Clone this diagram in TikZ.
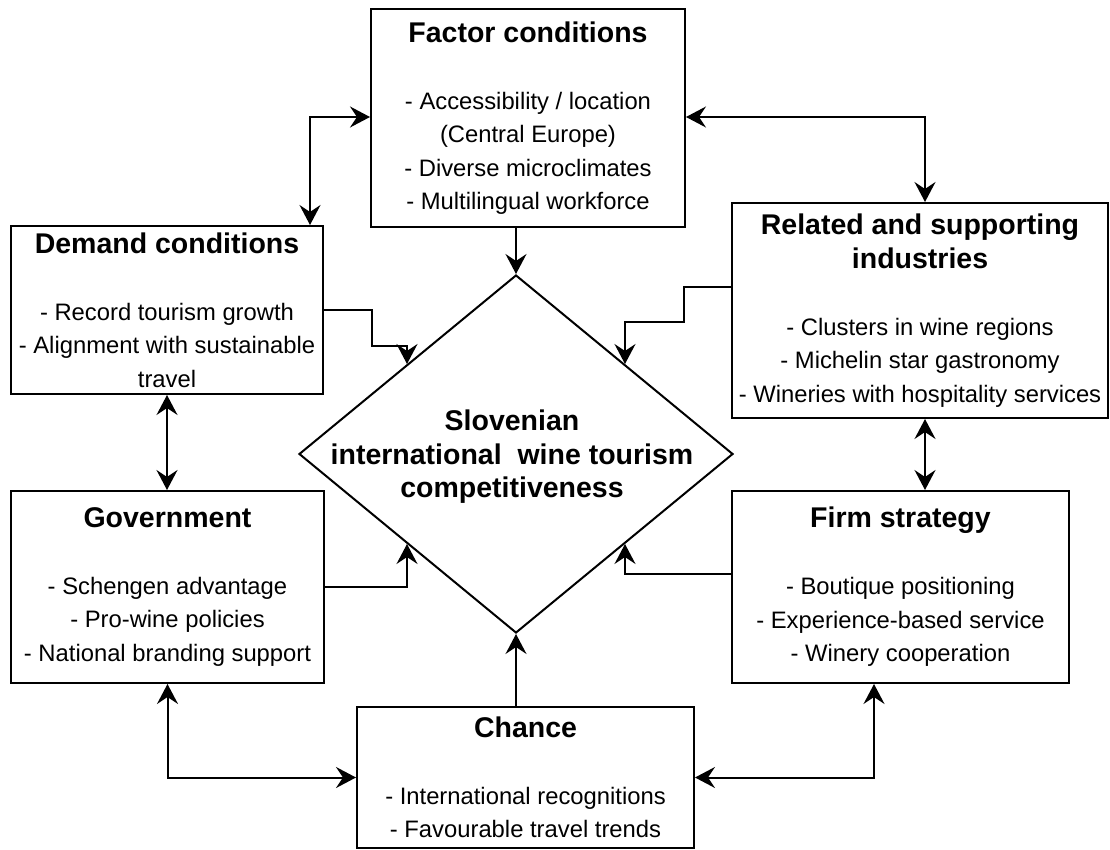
\documentclass[tikz,border=0pt]{standalone}
\usepackage{fontspec}
\setmainfont{Liberation Sans}
\usetikzlibrary{arrows.meta,shapes.geometric,calc}

\newcommand{\ttl}[1]{{\fontsize{28.5}{33.5}\selectfont\bfseries #1}}

\begin{document}
\begin{tikzpicture}[x=1pt,y=-1pt,
  box/.style={draw,line width=2pt,rectangle,inner sep=0pt,align=center,
    font=\fontsize{23.8}{33.5}\selectfont},
  core/.style={draw,line width=2pt,diamond,inner sep=0pt},
  coretext/.style={align=center,font=\fontsize{28.5}{33.5}\selectfont\bfseries},
  tip/.tip={Stealth[length=20pt,width=21pt,inset=7pt]},
  arr/.style={line width=2pt,-tip},
  biarr/.style={line width=2pt,tip-tip}]

\useasboundingbox (0,0) rectangle (1110,850);
\fill[white] (0,0) rectangle (1110,850);

% central diamond
\node[core,minimum width=434pt,minimum height=358pt] (dia) at (516,454) {};
\node[coretext] (diatext) at (512,457) {Slovenian\\international\ \ wine tourism\\competitiveness};

% the six determinants
\node[box,minimum width=314pt,minimum height=218pt] (factor) at (528,118)
  {\ttl{Factor conditions}\\[33.5pt]- Accessibility / location\\(Central Europe)\\- Diverse microclimates\\- Multilingual workforce};
\node[box,minimum width=312pt,minimum height=168pt] (demand) at (167,310)
  {\ttl{Demand conditions}\\[33.5pt]- Record tourism growth\\- Alignment with sustainable\\travel};
\node[box,minimum width=376pt,minimum height=215pt] (related) at (920,310.5)
  {\ttl{Related and supporting}\\\ttl{industries}\\[33.5pt]- Clusters in wine regions\\- Michelin star gastronomy\\- Wineries with hospitality services};
\node[box,minimum width=313pt,minimum height=192pt] (gov) at (167.5,587)
  {\ttl{Government}\\[33.5pt]- Schengen advantage\\- Pro-wine policies\\- National branding support};
\node[box,minimum width=337pt,minimum height=192pt] (firm) at (900.5,587)
  {\ttl{Firm strategy}\\[33.5pt]- Boutique positioning\\- Experience-based service\\- Winery cooperation};
\node[box,minimum width=337pt,minimum height=141pt] (chance) at (525.5,777.5)
  {\ttl{Chance}\\[33.5pt]- International recognitions\\- Favourable travel trends};

% connector end points that sit off the box centres
\coordinate (fac-dem) at ($(demand.north east)+(-14,0)$);
\coordinate (fac-rel) at ($(related.north)+(5,0)$);
\coordinate (rel-firm) at ($(related.south)+(5,0)$);
\coordinate (firm-ch) at ($(firm.south)+(-26.5,0)$);

% influences on the diamond
\draw[arr] (factor.south -| dia.north) -- (dia.north);
\draw[arr] (chance.north -| dia.south) -- (dia.south);
\draw[arr] (demand.east) -- ++(48,0) |- ($(dia.north west)+(0,-18)$) -- (dia.north west);
\draw[arr] ([yshift=23.5pt]related.west) -- ++(-47,0) |- ($(dia.north east)+(0,-42)$) -- (dia.north east);
\draw[arr] (gov.east) -| (dia.south west);
\draw[arr] ([yshift=13pt]firm.west) -| (dia.south east);

% mutual links between determinants
\draw[biarr] ([yshift=1pt]factor.west) -| (fac-dem);
\draw[biarr] ([yshift=1pt]factor.east) -| (fac-rel);
\draw[biarr] (demand.south) -- (demand.south |- gov.north);
\draw[biarr] (rel-firm) -- (rel-firm |- firm.north);
\draw[biarr] (gov.south) |- (chance.west);
\draw[biarr] (firm-ch) |- (chance.east);
\end{tikzpicture}
\end{document}
